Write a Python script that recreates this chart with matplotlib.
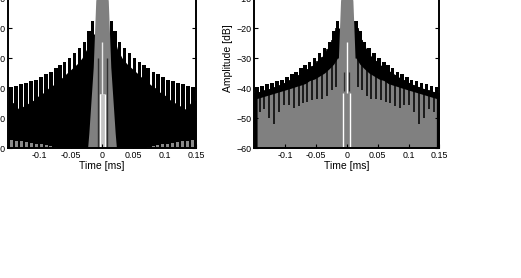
import numpy as np
import matplotlib.pyplot as plt

plt.rcParams['font.family'] = ['Liberation Sans', 'DejaVu Sans']

# sidelobe centres (ms, right half - the plots are mirrored about t = 0)
lobe_t = [0.015, 0.021, 0.028, 0.036, 0.044, 0.052, 0.060, 0.067, 0.074,
          0.082, 0.089, 0.097, 0.105, 0.113, 0.121, 0.129, 0.137, 0.145]
# spike tops (dB), same in both panels
lobe_top = [-17.5, -21, -24.5, -26.8, -28.3, -30, -31.3, -32.3, -33.3,
            -34.5, -35.3, -36.3, -37.2, -37.8, -38.3, -38.7, -39.2, -39.7]

# positions of the gaps between sidelobes
gap_t = [0.018, 0.0245, 0.032, 0.040, 0.048, 0.056, 0.0635, 0.0705, 0.078,
         0.0855, 0.093, 0.101, 0.109, 0.117, 0.125, 0.133, 0.141, 0.150]
# bottom of the white notches, left panel
notch_a = [-22, -27, -30, -32, -33.5, -35, -36.5, -37.5, -39,
           -40, -41.5, -42.5, -44, -45, -46, -47, -45, -44]
# bottom of the white notches, right panel
notch_b = [-20, -24, -27, -29.5, -31, -32.5, -33.5, -34.5, -35.5,
           -36.5, -37.3, -38.2, -39, -39.6, -40.2, -40.7, -41.2, -41.5]

# grey floor bumps, left panel (dB)
floor_a = [-60, -60, -60, -60, -60, -60, -60, -60, -59.7,
           -59.4, -59.1, -58.8, -58.5, -58.2, -57.9, -57.7, -57.5, -57.3]

# top of the grey area under the black band, right panel
band_b = [-30, -32, -33.5, -35, -36, -37, -37.5, -38.5, -39,
          -39.5, -40, -40.5, -41, -41.5, -42, -42.5, -43, -43.5]
# depth of the black nulls, right panel (at gap_t)
null_b = [-39.5, -40.5, -42.5, -43.5, -43.5, -44, -44.5, -45, -46,
          -46.8, -45.7, -45.7, -48, -52, -50, -47, -48, -52]

# main lobe outline
main_t = [-0.023, -0.021, -0.0175, -0.014, -0.012, -0.010, -0.005, 0,
          0.005, 0.010, 0.012, 0.014, 0.0175, 0.021, 0.023]
main_db = [-60, -55, -44, -33, -22, -11, -2, 0,
           -2, -11, -22, -33, -44, -55, -60]

xticks = [-0.1, -0.05, 0, 0.05, 0.1, 0.15]
xticklabels = ['-0.1', '-0.05', '0', '0.05', '0.1', '0.15']
yticks = [-60, -50, -40, -30, -20, -10, 0]


def mirror(t, v):
    t = np.asarray(t, dtype=float)
    v = np.asarray(v, dtype=float)
    return np.concatenate([-t[::-1], t]), np.concatenate([v[::-1], v])


def style(ax):
    ax.set_xlim(-0.15, 0.15)
    ax.set_ylim(-60, 0)
    ax.set_xticks(xticks)
    ax.set_xticklabels(xticklabels)
    ax.set_yticks(yticks)
    ax.tick_params(direction='in', length=3, width=0.8, labelsize=6.4,
                   pad=2, top=True, right=True)
    for s in ax.spines.values():
        s.set_linewidth(1.4)
    ax.set_xlabel('Time [ms]', fontsize=7.5, labelpad=1)
    ax.set_ylabel('Amplitude [dB]', fontsize=7.5, labelpad=2)


fig = plt.figure(figsize=(5.21, 2.78), dpi=100)
ax1 = fig.add_axes([0.0154, 0.4676, 0.3608, 0.6475])
ax2 = fig.add_axes([0.4875, 0.4676, 0.3560, 0.6475])

lt, ltop = mirror(lobe_t, lobe_top)
gt, na = mirror(gap_t, notch_a)
_, nb = mirror(gap_t, notch_b)
_, fa = mirror(lobe_t, floor_a)
_, bb = mirror(lobe_t, band_b)
_, nul = mirror(gap_t, null_b)

# ---- left panel
ax1.fill_between(gt, -60, na, color='black', lw=0)
ax1.bar(lt, ltop + 60, bottom=-60, width=0.006, color='black', lw=0)
ax1.bar(lt, fa + 60, bottom=-60, width=0.0045, color='#8a8a8a', lw=0)
ax1.fill_between(main_t, -60, main_db, color='#808080', lw=0)
ax1.vlines([-0.007, 0.008], -60, -30, color='#303030', lw=1.0)
ax1.fill_between([-0.004, 0.005], -60, -42, color='#c4c4c4', lw=0)
ax1.vlines([-0.003, 0.004], -60, -42, color='white', lw=0.9)
ax1.vlines([0], -42, -24.5, color='#e8e8e8', lw=1.0)
style(ax1)

# ---- right panel
ax2.fill_between(gt, -60, nb, color='black', lw=0)
ax2.bar(lt, ltop + 60, bottom=-60, width=0.006, color='black', lw=0)
ax2.fill_between(lt, -60, bb, color='#808080', lw=0)
ax2.vlines(gt, nul, nb, color='black', lw=1.1)
ax2.fill_between(main_t, -60, main_db, color='#808080', lw=0)
ax2.vlines([-0.0043, 0.0043], -41, -34.5, color='#303030', lw=0.9)
ax2.vlines([-0.006, 0.006], -60, -41.8, color='white', lw=1.0)
ax2.vlines([0], -41.5, -24.6, color='white', lw=1.0)
style(ax2)

fig.savefig('out.png', dpi=100)
